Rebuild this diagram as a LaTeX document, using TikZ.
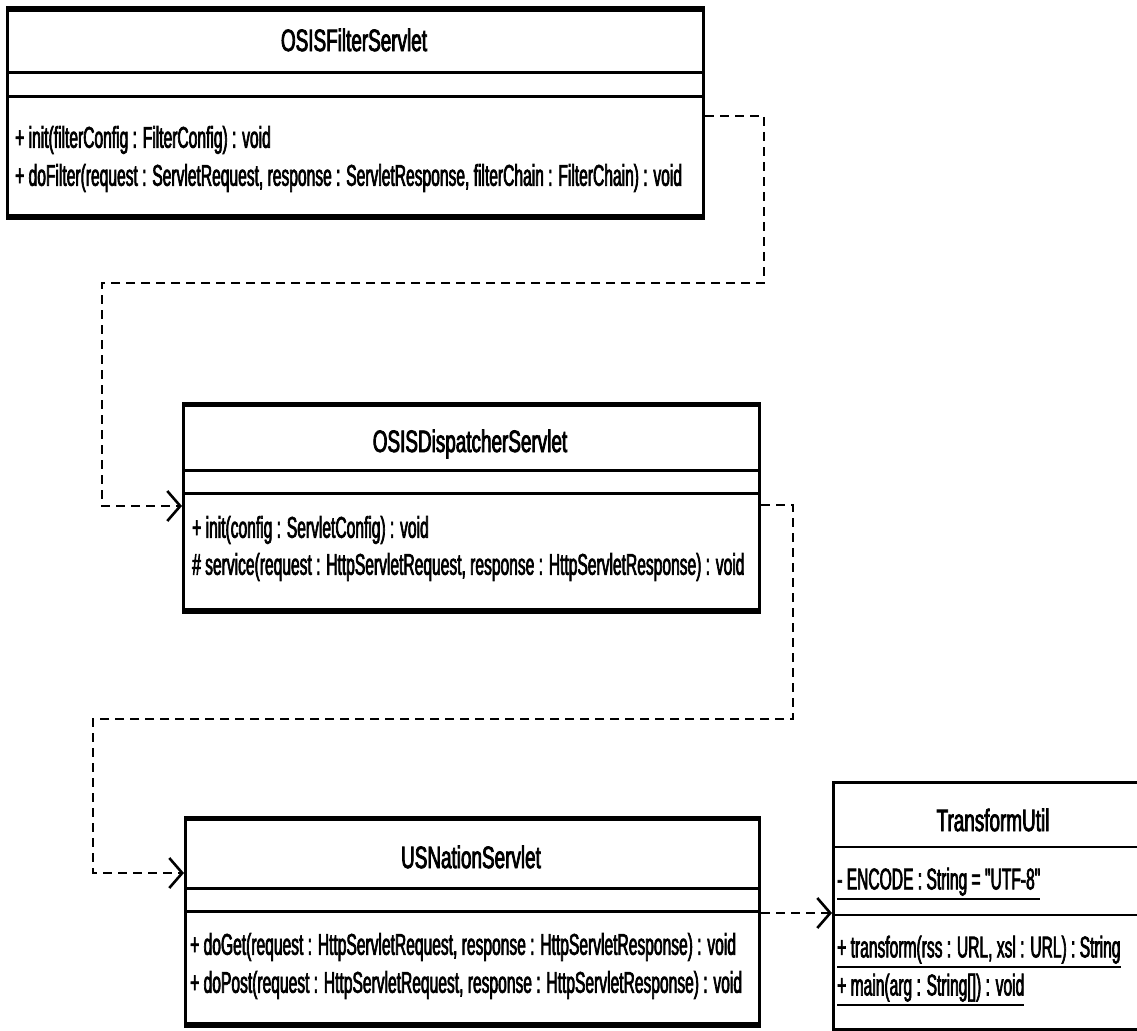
\documentclass[tikz,border=0pt]{standalone}
\usepackage{fontspec}
\setmainfont{Liberation Sans}
\newfontfamily\membfont{Liberation Sans}[FakeStretch=0.52,FakeBold=2.2]
\newfontfamily\namefont{Liberation Sans}[FakeStretch=0.61,FakeBold=2.5]
\usetikzlibrary{arrows.meta}
% underlined static member text
\newcommand\staticmem[1]{\leavevmode\vtop{\hbox{#1}\kern2.5pt\hrule height 2.2pt}}

\begin{document}
\begin{tikzpicture}[x=1pt,y=-1pt,
  classbox/.style={draw, line width=3pt, inner sep=0pt, anchor=north west},
  sepline/.style={line width=3pt},
  boldedge/.style={line width=5pt},
  cname/.style={font=\namefont\fontsize{31}{35}\selectfont, inner sep=0pt},
  member/.style={font=\membfont\fontsize{30}{34}\selectfont, inner sep=0pt, anchor=west},
  dep/.style={line width=2.6pt, dash pattern=on 9pt off 6pt,
    -{Straight Barb[length=13pt,width=30pt,line width=2.6pt]}}
]
\useasboundingbox (0,0) rectangle (1137,1030);

% OSISFilterServlet
\node[classbox, minimum width=696pt, minimum height=205pt] (b1) at (6,9) {};
\draw[boldedge] (b1.north west) -- (b1.north east);
\draw[boldedge] (b1.south west) -- (b1.south east);
\draw[sepline] (b1.west |- 0,73) -- (b1.east |- 0,73);
\draw[sepline] (b1.west |- 0,97) -- (b1.east |- 0,97);
\node[cname] (b1n) at (354,40) {OSISFilterServlet};
\node[member] (b1o1) at (15,140) {+ init(filterConfig : FilterConfig) : void};
\node[member] (b1o2) at (15,178) {+ doFilter(request : ServletRequest, response : ServletResponse, filterChain : FilterChain) : void};

% OSISDispatcherServlet
\node[classbox, minimum width=576pt, minimum height=204pt] (b2) at (182,404) {};
\draw[boldedge] (b2.north west) -- (b2.north east);
\draw[boldedge] (b2.south west) -- (b2.south east);
\draw[sepline] (b2.west |- 0,470) -- (b2.east |- 0,470);
\draw[sepline] (b2.west |- 0,493) -- (b2.east |- 0,493);
\node[cname] (b2n) at (470,444) {OSISDispatcherServlet};
\node[member] (b2o1) at (192,530) {+ init(config : ServletConfig) : void};
\node[member] (b2o2) at (192,567) {\# service(request : HttpServletRequest, response : HttpServletResponse) : void};

% USNationServlet
\node[classbox, minimum width=574pt, minimum height=204pt] (b3) at (184,818) {};
\draw[boldedge] (b3.north west) -- (b3.north east);
\draw[boldedge] (b3.south west) -- (b3.south east);
\draw[sepline] (b3.west |- 0,888) -- (b3.east |- 0,888);
\draw[sepline] (b3.west |- 0,911) -- (b3.east |- 0,911);
\node[cname] (b3n) at (471,857) {USNationServlet};
\node[member] (b3o1) at (190,947) {+ doGet(request : HttpServletRequest, response : HttpServletResponse) : void};
\node[member] (b3o2) at (190,985) {+ doPost(request : HttpServletRequest, response : HttpServletResponse) : void};

% TransformUtil
\node[classbox, line width=2.5pt, minimum width=322pt, minimum height=247pt] (b4) at (832,781) {};
\draw[sepline, line width=2.5pt] (b4.west |- 0,847) -- (b4.east |- 0,847);
\draw[sepline, line width=2.5pt] (b4.west |- 0,915) -- (b4.east |- 0,915);
\node[cname] (b4n) at (993,820) {TransformUtil};
\node[member] (b4a1) at (837,884) {\staticmem{- ENCODE : String = "UTF-8"}};
\node[member] (b4o1) at (837,952) {\staticmem{+ transform(rss : URL, xsl : URL) : String}};
\node[member] (b4o2) at (837,990) {\staticmem{+ main(arg : String[]) : void}};

% dependencies
\draw[dep] (b1.east |- 0,116) -- (764,116) -- (764,283) -- (102,283) -- (102,506) -- (b2.west |- 0,506);
\draw[dep] (b2.east |- 0,505) -- (793,505) -- (793,719) -- (93,719) -- (93,873) -- (b3.west |- 0,873);
\draw[dep] (b3.east |- 0,913) -- (b4.west |- 0,913);
\end{tikzpicture}
\end{document}
